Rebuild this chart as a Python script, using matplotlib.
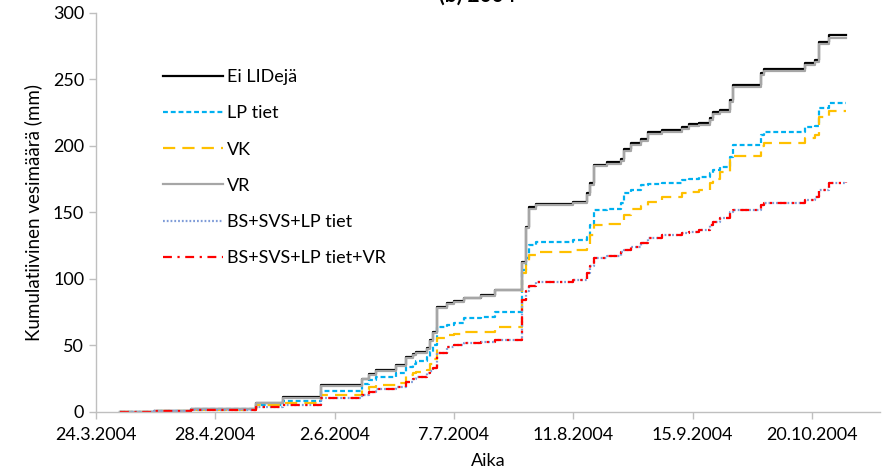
import matplotlib
matplotlib.use("Agg")
import matplotlib.pyplot as plt
import pandas as pd

plt.rcParams['font.family'] = ['Lato', 'DejaVu Sans']

# rain event dates (cumulative sums are held constant between them)
dates = ['2004-03-31', '2004-04-10', '2004-04-21', '2004-05-10', '2004-05-18',
         '2004-05-29', '2004-06-10', '2004-06-12', '2004-06-14', '2004-06-20',
         '2004-06-23', '2004-06-25', '2004-06-26', '2004-06-29', '2004-06-30',
         '2004-07-01', '2004-07-02', '2004-07-05', '2004-07-07', '2004-07-10',
         '2004-07-15', '2004-07-19', '2004-07-27', '2004-07-28', '2004-07-29',
         '2004-07-31', '2004-08-11', '2004-08-15', '2004-08-16', '2004-08-17',
         '2004-08-21', '2004-08-25', '2004-08-26', '2004-08-28', '2004-08-31',
         '2004-09-02', '2004-09-06', '2004-09-12', '2004-09-14', '2004-09-17',
         '2004-09-20', '2004-09-21', '2004-09-23', '2004-09-26', '2004-09-27',
         '2004-10-05', '2004-10-06', '2004-10-18', '2004-10-21', '2004-10-22',
         '2004-10-25', '2004-10-30']

ei_lideja = [0, 1, 2.5, 7, 11, 20, 25, 28.5, 31.5, 35, 41, 43.5, 45, 48, 54,
             60, 79, 82, 83.5, 86, 88, 92, 113, 139, 154, 156.5, 158, 164.7,
             172, 186, 188, 190, 198, 202, 205, 210.5, 212, 214, 216.5, 217,
             221, 225.6, 227, 234.6, 246, 255, 258, 262.5, 265, 278, 283.5, 283.5]

vr = [0, 0.8, 2.2, 6.6, 10.5, 19.5, 24.5, 28, 31, 34.5, 40.5, 43, 44.5, 47.5, 53.5,
      59.5, 78.5, 81.5, 83, 85.5, 87.5, 91.5, 112, 138, 153, 155.5, 157, 163.5,
      170.8, 184.8, 186.5, 188.5, 196.5, 200.5, 203.5, 209, 210.5, 212.5, 215, 215.5,
      219.5, 224, 225.5, 233, 244.5, 253.5, 256.5, 261, 263, 276.5, 281.5, 281.5]

lp_tiet = [0, 0.8, 2, 5.5, 8.5, 16, 21, 24, 26, 29, 34, 36, 38, 41, 45,
           50, 64, 65.5, 67, 70.5, 71.5, 75, 107, 116, 125.5, 128, 129.5, 131.6,
           140.6, 152, 153, 157, 165, 167, 170.7, 171.5, 172, 174.5, 175.5, 177,
           180, 182, 184, 192, 200.8, 208, 210.6, 214, 215, 228.6, 232, 232]

vk = [0, 0.7, 1.8, 5, 7, 12.5, 16.5, 19, 20.5, 22, 28, 29, 30, 31.5, 36,
      40, 55.5, 58, 59, 60, 60.5, 64, 104.5, 112, 118, 120, 121.5, 123,
      133, 140.6, 141, 142, 148, 153, 155, 158, 161.7, 164.7, 165.5, 167,
      172, 175, 180.5, 190, 192.5, 200, 202, 206, 208, 222, 226, 226]

bs_svs_lp = [0, 0.6, 1.6, 3.5, 5, 10.5, 13, 15, 17, 19, 22.5, 24.5, 26.5, 29, 31,
             33, 44, 49, 50, 52, 52.5, 54, 84, 91, 95, 98, 99.5, 104.5,
             110, 116, 117, 120, 122, 124, 127, 131, 133, 134.6, 135.5, 137,
             140.6, 143, 146, 150.4, 152, 155.7, 157, 159.4, 162, 167, 172, 173]

bs_svs_lp_vr = [0, 0.6, 1.6, 3.5, 5, 10.5, 13, 15, 17, 19, 22.5, 24.5, 26.5, 29, 31,
                33, 44, 49, 50, 52, 52.5, 54, 84, 91, 95, 98, 99.5, 104.5,
                110, 116, 117, 120, 122, 124, 127, 131, 133, 134.6, 135.5, 137,
                140.6, 143, 146, 150.4, 152, 155.7, 157, 159.4, 162, 167, 172, 173]

tick_labels = ['24.3.2004', '28.4.2004', '2.6.2004', '7.7.2004',
               '11.8.2004', '15.9.2004', '20.10.2004']

t = pd.to_datetime(dates)
ticks = pd.to_datetime(tick_labels, format='%d.%m.%Y')

fig = plt.figure(figsize=(8.83, 4.71), dpi=100)
ax = fig.add_axes([0.1087, 0.1253, 0.888, 0.8471])

lw = 1.6
ax.step(t, ei_lideja, where='post', color='black', lw=lw, label='Ei LIDejä')
ax.step(t, lp_tiet, where='post', color='#00B0F0', lw=lw, ls=(0, (2.2, 1.3)), label='LP tiet')
ax.step(t, vk, where='post', color='#FFC000', lw=lw, ls=(0, (5.5, 3.2)), label='VK')
ax.step(t, vr, where='post', color='#A6A6A6', lw=lw, label='VR')
ax.step(t, bs_svs_lp, where='post', color='#7F9CD8', lw=lw, ls=(0, (0.8, 0.9)),
        label='BS+SVS+LP tiet')
ax.step(t, bs_svs_lp_vr, where='post', color='#FF0000', lw=lw, ls=(0, (4, 2.5, 1, 2.5)),
        label='BS+SVS+LP tiet+VR')

ax.set_xlim(pd.Timestamp('2004-03-24'), pd.Timestamp('2004-11-09'))
ax.set_ylim(0, 300)
ax.set_yticks(range(0, 301, 50))
ax.set_xticks(ticks)
ax.set_xticklabels(tick_labels)

for s in ['top', 'right']:
    ax.spines[s].set_visible(False)
for s in ['left', 'bottom']:
    ax.spines[s].set_color('#BFBFBF')
    ax.spines[s].set_linewidth(1.0)
ax.tick_params(axis='both', colors='#BFBFBF', labelcolor='black',
               labelsize=13, length=5, width=1.0)
ax.tick_params(axis='x', pad=6)

ax.set_xlabel('Aika', fontsize=13, labelpad=7)
ax.set_ylabel('Kumulatiivinen vesimäärä (mm)', fontsize=13.5, labelpad=8)

fig.text(0.541, 0.987, '(b) 2004', ha='center', va='bottom', fontsize=15, fontweight='bold')

ax.legend(loc='upper left', bbox_to_anchor=(0.065, 0.9), frameon=False,
          fontsize=13, handlelength=3.3, handletextpad=0.25, labelspacing=1.12)

fig.savefig('out.png', dpi=100)
